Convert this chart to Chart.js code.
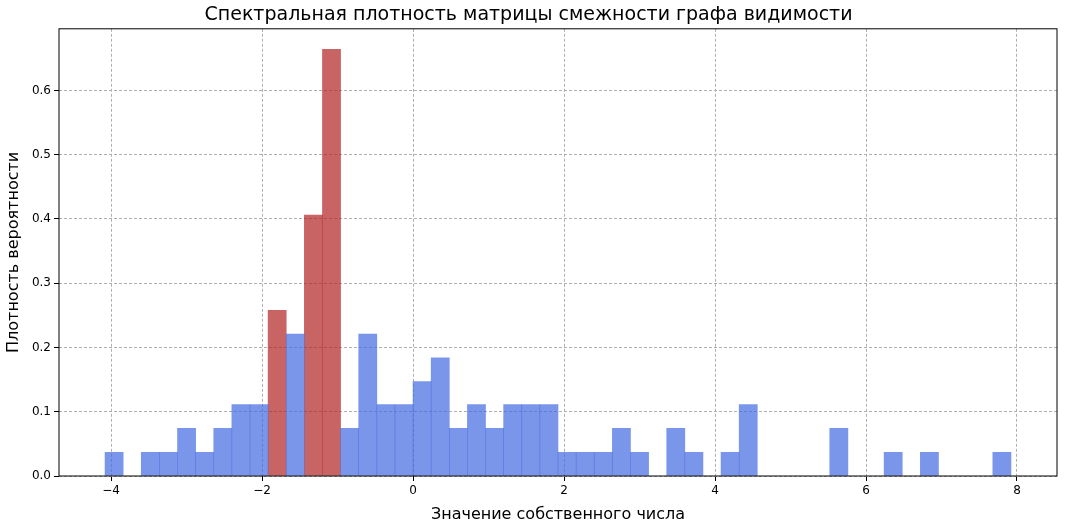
<!DOCTYPE html>
<html>
<head>
<meta charset="utf-8">
<script src="https://cdn.jsdelivr.net/npm/chart.js@4"></script>
<style>
  body { margin: 0; background: #fff; }
  #wrap { width: 1066px; height: 528px; }
</style>
</head>
<body>
<div id="wrap"><canvas id="chart"></canvas></div>
<script>
// histogram bins (left edges), bin width 0.24
const binStart = -4.08;
const binWidth = 0.24;
// density per bin (counts / (113 * 0.24))
const blueDensity = [0.037, 0, 0.037, 0.037, 0.074, 0.037, 0.074, 0.111, 0.111, 0, 0.221, 0, 0, 0.074, 0.221, 0.111, 0.111, 0.147, 0.184, 0.074, 0.111, 0.074, 0.111, 0.111, 0.111, 0.037, 0.037, 0.037, 0.074, 0.037, 0, 0.074, 0.037, 0, 0.037, 0.111, 0, 0, 0, 0, 0.074, 0, 0, 0.037, 0, 0.037, 0, 0, 0, 0.037];
const redDensity = [0, 0, 0, 0, 0, 0, 0, 0, 0, 0.258, 0, 0.406, 0.664, 0, 0, 0, 0, 0, 0, 0, 0, 0, 0, 0, 0, 0, 0, 0, 0, 0, 0, 0, 0, 0, 0, 0, 0, 0, 0, 0, 0, 0, 0, 0, 0, 0, 0, 0, 0, 0];
const xTicks = [-4, -2, 0, 2, 4, 6, 8];

const centers = blueDensity.map((_, i) => +(binStart + binWidth * (i + 0.5)).toFixed(3));

const frame = {
  id: 'frame',
  afterDraw(chart) {
    const { ctx, chartArea: a } = chart;
    ctx.save();
    ctx.strokeStyle = '#000';
    ctx.lineWidth = 1;
    ctx.strokeRect(a.left, a.top, a.right - a.left, a.bottom - a.top);
    ctx.restore();
  }
};

new Chart(document.getElementById('chart'), {
  type: 'bar',
  data: {
    datasets: [
      {
        data: centers.map((x, i) => ({ x, y: blueDensity[i] || null })),
        backgroundColor: 'rgba(65, 105, 225, 0.7)',
        borderWidth: 0,
        grouped: false, barPercentage: 1, categoryPercentage: 1
      },
      {
        data: centers.map((x, i) => ({ x, y: redDensity[i] || null })),
        backgroundColor: 'rgba(178, 34, 34, 0.7)',
        borderWidth: 0,
        grouped: false, barPercentage: 1, categoryPercentage: 1
      }
    ]
  },
  plugins: [frame],
  options: {
    responsive: true,
    maintainAspectRatio: false,
    animation: false,
    layout: { padding: { left: 0, right: 9, top: 0, bottom: 0 } },
    plugins: {
      legend: { display: false },
      tooltip: { enabled: false },
      title: {
        display: true,
        text: 'Спектральная плотность матрицы смежности графа видимости',
        color: '#000',
        font: { family: 'DejaVu Sans', size: 19, weight: 'normal' },
        padding: { top: 4, bottom: 2 }
      }
    },
    scales: {
      x: {
        type: 'linear',
        offset: false,
        min: -4.69, max: 8.53,
        afterBuildTicks: axis => { axis.ticks = xTicks.map(v => ({ value: v })); },
        afterFit: axis => { axis.height = 52; },
        ticks: {
          color: '#000',
          font: { family: 'DejaVu Sans', size: 12 },
          callback: v => String(v).replace('-', '\u2212')
        },
        grid: { offset: false, color: '#b0b0b0', tickColor: '#000', tickLength: 5 },
        border: { display: false, dash: [3, 2] },
        title: {
          display: true, text: 'Значение собственного числа', color: '#000',
          font: { family: 'DejaVu Sans', size: 16 }, padding: { top: 0 }
        }
      },
      y: {
        min: 0, max: 0.696,
        afterBuildTicks: axis => { axis.ticks = [0, 0.1, 0.2, 0.3, 0.4, 0.5, 0.6].map(v => ({ value: v })); },
        afterFit: axis => { axis.width = 59; },
        ticks: {
          color: '#000',
          font: { family: 'DejaVu Sans', size: 12 },
          callback: v => v.toFixed(1)
        },
        grid: { color: '#b0b0b0', tickColor: '#000', tickLength: 5 },
        border: { display: false, dash: [3, 2] },
        title: {
          display: true, text: 'Плотность вероятности', color: '#000',
          font: { family: 'DejaVu Sans', size: 16 }, padding: { bottom: 2 }
        }
      }
    }
  }
});
</script>
</body>
</html>
